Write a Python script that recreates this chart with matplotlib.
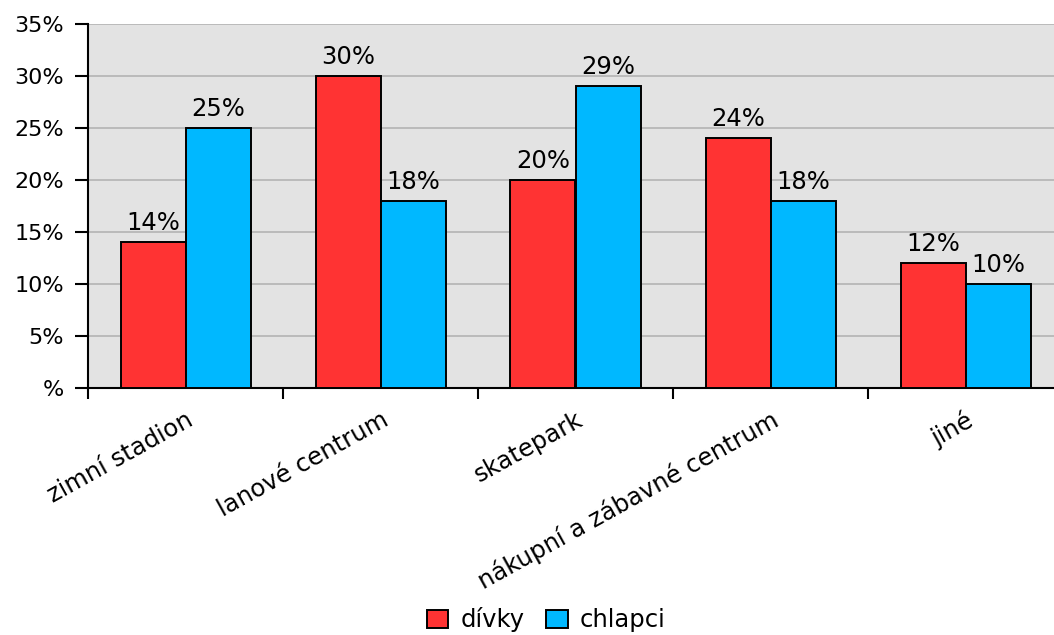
import matplotlib
matplotlib.use("Agg")
import matplotlib.pyplot as plt
import numpy as np

categories = ["zimní stadion", "lanové centrum", "skatepark", "nákupní a zábavné centrum", "jiné"]
divky = [14, 30, 20, 24, 12]
chlapci = [25, 18, 29, 18, 10]
series_names = ["dívky", "chlapci"]
ytick_labels = ["%", "5%", "10%", "15%", "20%", "25%", "30%", "35%"]

plt.rcParams['font.family'] = ['DejaVu Sans']
FS_TICK = 16
FS = 17.5

fig = plt.figure(figsize=(10.54, 6.35), dpi=100)
ax = fig.add_axes([88/1054, (635-388)/635, 975/1054, (388-24)/635])
ax.set_facecolor('#E3E3E3')

x = np.arange(len(categories))
w = 1/3
b1 = ax.bar(x - w/2, divky, w, color='#FF3333', edgecolor='black', linewidth=1.4, label=series_names[0], zorder=3)
b2 = ax.bar(x + w/2, chlapci, w, color='#00B8FF', edgecolor='black', linewidth=1.4, label=series_names[1], zorder=3)

for bars, vals in ((b1, divky), (b2, chlapci)):
    for r, v in zip(bars, vals):
        ax.annotate(f"{v}%", (r.get_x() + r.get_width()/2, r.get_height()),
                    xytext=(0, 5), textcoords='offset points', ha='center', va='bottom',
                    fontsize=FS)

ax.set_xlim(-0.5, len(categories) - 0.5)
ax.set_ylim(0, 35)
ax.set_yticks(np.arange(0, 36, 5))
ax.set_yticklabels(ytick_labels, fontsize=FS_TICK)
ax.yaxis.grid(True, color='#B4B4B4', linewidth=1.2, zorder=0)
ax.set_axisbelow(True)

ax.set_xticks(np.arange(len(categories) + 1) - 0.5)
ax.set_xticklabels([])
ax.set_xticks(x, minor=True)
ax.set_xticklabels(categories, minor=True, rotation=29, ha='right', rotation_mode='anchor', fontsize=FS)
ax.tick_params(axis='x', which='minor', length=0, pad=14)
ax.tick_params(axis='x', which='major', length=8, width=1.5, color='black', direction='out')
ax.tick_params(axis='y', length=9.5, width=1.5, direction='out', pad=8)

for s in ['top', 'right']:
    ax.spines[s].set_visible(False)
for s in ['left', 'bottom']:
    ax.spines[s].set_linewidth(1.5)
    ax.spines[s].set_color('black')

fig.legend(handles=[b1, b2], labels=series_names, loc='center', bbox_to_anchor=(546/1054, 1 - 620/635),
           ncol=2, frameon=False, fontsize=FS, handlelength=0.88, handleheight=0.7,
           handletextpad=0.5, columnspacing=0.9)

fig.savefig("out.png", dpi=100)
